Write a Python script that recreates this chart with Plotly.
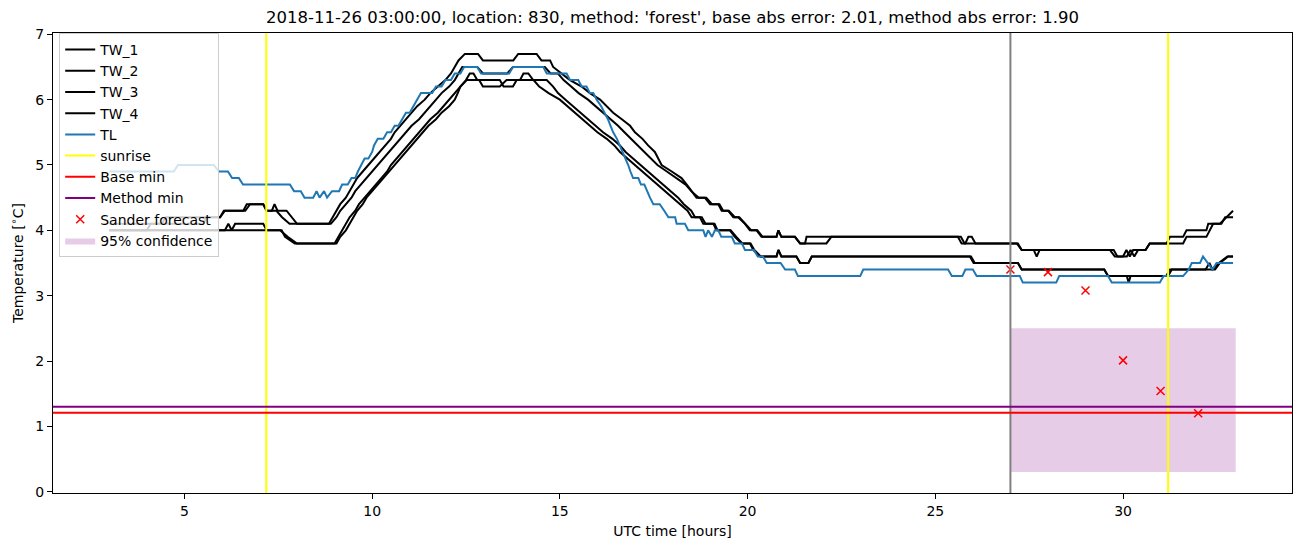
import plotly.graph_objects as go

# ---------------- data ----------------
tw1_t = [3.0, 4.4, 4.5, 5.95, 6.08, 6.57, 6.66, 7.1, 7.19, 7.33, 7.4, 7.48, 7.72, 7.86, 8.0, 8.85,
         8.95, 9.05, 9.15, 9.3, 9.4, 9.5, 9.6, 9.75, 9.9, 10.05, 10.2, 10.35, 10.5, 10.6, 10.75, 10.9,
         11.05, 11.2, 11.4, 11.55, 11.75, 11.95, 12.1, 12.2, 12.3, 12.47, 12.82, 12.95, 13.76, 13.89,
         14.38, 14.51, 14.74, 14.82, 15.05, 15.27, 15.58, 15.8, 16.07, 16.25, 16.42, 16.65, 16.87, 17.0,
         17.2, 17.35, 17.53, 17.62, 17.71, 17.98, 18.24, 18.38, 18.5, 18.64, 18.86, 19.0, 19.22, 19.31,
         19.48, 19.62, 19.75, 19.93, 20.06, 20.24, 20.37, 20.77, 20.82, 20.9, 21.26, 21.4, 21.53, 21.57,
         25.6, 25.7, 25.8, 25.88, 25.97, 26.07, 27.17, 27.3, 29.65, 29.78, 30.0, 30.09, 30.18, 30.27,
         30.6, 30.71, 31.16, 31.25, 31.6, 31.69, 32.22, 32.27, 32.58, 32.76, 32.93]
tw1_v = [4.1, 4.1, 4.2, 4.2, 4.3, 4.3, 4.4, 4.4, 4.3, 4.3, 4.4, 4.3, 4.3, 4.2, 4.1, 4.1,
         4.2, 4.3, 4.4, 4.5, 4.6, 4.7, 4.8, 4.9, 5.0, 5.1, 5.2, 5.3, 5.4, 5.5, 5.6, 5.7,
         5.8, 5.9, 6.0, 6.1, 6.2, 6.3, 6.4, 6.5, 6.6, 6.7, 6.7, 6.6, 6.6, 6.7,
         6.7, 6.6, 6.6, 6.5, 6.4, 6.3, 6.2, 6.1, 6.0, 5.9, 5.8, 5.7, 5.6, 5.5,
         5.4, 5.3, 5.2, 5.1, 5.0, 4.9, 4.8, 4.7, 4.6, 4.5, 4.5, 4.4, 4.4, 4.3,
         4.3, 4.2, 4.2, 4.1, 4.0, 4.0, 3.9, 3.9, 4.0, 3.9, 3.9, 3.8, 3.8, 3.9,
         3.9, 3.8, 3.8, 3.9, 3.9, 3.8, 3.8, 3.7, 3.7, 3.6, 3.6, 3.7, 3.6, 3.7,
         3.7, 3.8, 3.8, 3.9, 3.9, 4.0, 4.0, 4.1, 4.1, 4.2, 4.3]

tw2_t = [3.0, 4.0, 4.1, 5.5, 5.6, 5.95, 6.05, 6.62, 6.75, 7.1, 7.19, 7.45, 7.6, 7.8, 8.9,
         9.05, 9.15, 9.3, 9.45, 9.55, 9.7, 9.85, 10.0, 10.15, 10.3, 10.45, 10.6, 10.75, 10.9, 11.05,
         11.25, 11.4, 11.55, 11.7, 11.85, 12.05, 12.2, 12.3, 12.4, 12.8, 12.95, 13.6, 13.75, 14.6,
         14.75, 14.95, 15.1, 15.3, 15.5, 15.75, 15.95, 16.15, 16.35, 16.55, 16.72, 16.9, 17.08, 17.25,
         17.42, 17.6, 17.85, 18.1, 18.35, 18.5, 18.7, 18.9, 19.05, 19.25, 19.35, 19.5, 19.66,
         19.78, 19.95, 20.1, 20.26, 20.4, 20.77, 20.82, 20.9, 21.26, 21.4, 22.1, 22.23, 25.68, 25.78,
         27.2, 27.3, 27.62, 27.7, 27.78, 29.75, 29.85, 30.1, 30.2, 30.3, 30.4, 30.6, 30.71, 31.6,
         31.69, 32.22, 32.3, 32.4, 32.62, 32.72, 32.93]
tw2_v = [4.0, 4.0, 4.1, 4.1, 4.2, 4.2, 4.3, 4.3, 4.4, 4.4, 4.3, 4.3, 4.2, 4.1, 4.1,
         4.2, 4.3, 4.4, 4.5, 4.6, 4.7, 4.8, 4.9, 5.0, 5.1, 5.2, 5.3, 5.4, 5.5, 5.6,
         5.7, 5.8, 5.9, 6.0, 6.1, 6.2, 6.3, 6.4, 6.5, 6.5, 6.4, 6.4, 6.5, 6.5,
         6.4, 6.4, 6.3, 6.2, 6.1, 6.0, 5.9, 5.8, 5.7, 5.6, 5.5, 5.4, 5.3, 5.2,
         5.1, 5.0, 4.9, 4.8, 4.7, 4.6, 4.5, 4.5, 4.4, 4.4, 4.3, 4.3, 4.2,
         4.2, 4.1, 4.0, 4.0, 3.9, 3.9, 4.0, 3.9, 3.9, 3.8, 3.8, 3.9, 3.9, 3.8,
         3.8, 3.7, 3.7, 3.6, 3.7, 3.7, 3.6, 3.6, 3.7, 3.6, 3.7, 3.7, 3.8, 3.8,
         3.9, 3.9, 4.0, 4.1, 4.1, 4.2, 4.2]

tw3_t = [3.0, 6.08, 6.17, 6.26, 6.35, 7.1, 7.19, 7.55, 7.75, 7.99, 9.0,
         9.1, 9.2, 9.3, 9.4, 9.55, 9.65, 9.8, 9.95, 10.1, 10.25, 10.4, 10.5, 10.65, 10.8, 10.95,
         11.1, 11.25, 11.4, 11.55, 11.75, 11.9, 12.05, 12.2, 12.35, 12.5, 12.6, 12.7, 12.8, 13.4,
         13.5, 13.75, 13.85, 14.3, 14.45, 14.7, 15.0, 15.2, 15.4, 15.6, 15.8, 16.0, 16.25, 16.45,
         16.6, 16.8, 17.0, 17.2, 17.4, 17.6, 17.8, 18.0, 18.2, 18.4, 18.51, 18.73, 18.82, 19.09,
         19.17, 19.53, 19.66, 19.84, 20.06, 20.15, 20.33, 20.77, 20.82, 20.9, 21.3, 21.4, 21.62, 21.71,
         25.92, 26.02, 27.2, 27.3, 29.5, 29.6, 30.1, 30.15, 30.2, 31.15, 31.25, 32.2, 32.3, 32.38,
         32.55, 32.78, 32.93]
tw3_v = [4.0, 4.0, 4.1, 4.0, 4.1, 4.1, 4.0, 4.0, 3.9, 3.8, 3.8,
         3.9, 4.0, 4.1, 4.2, 4.3, 4.4, 4.5, 4.6, 4.7, 4.8, 4.9, 5.0, 5.1, 5.2, 5.3,
         5.4, 5.5, 5.6, 5.7, 5.8, 5.9, 6.0, 6.1, 6.2, 6.3, 6.4, 6.4, 6.3, 6.3,
         6.2, 6.2, 6.3, 6.3, 6.2, 6.1, 6.0, 5.9, 5.8, 5.7, 5.6, 5.5, 5.4, 5.3,
         5.2, 5.1, 5.0, 4.9, 4.8, 4.7, 4.6, 4.5, 4.4, 4.3, 4.2, 4.2, 4.1, 4.1,
         4.0, 4.0, 3.9, 3.8, 3.8, 3.7, 3.6, 3.6, 3.7, 3.6, 3.6, 3.5, 3.5, 3.6,
         3.6, 3.5, 3.5, 3.4, 3.4, 3.3, 3.3, 3.2, 3.3, 3.3, 3.4, 3.4, 3.5, 3.4,
         3.5, 3.6, 3.6]

tw4_t = [3.0, 7.59, 7.68, 7.94, 9.05, 9.15, 9.3, 9.4, 9.5, 9.6, 9.75, 9.85, 10.0, 10.15, 10.3,
         10.45, 10.6, 10.75, 10.9, 11.05, 11.2, 11.35, 11.5, 11.7, 11.85, 12.05, 12.2, 12.28, 12.35,
         12.52, 12.85, 12.95, 13.4, 13.58, 13.94, 14.03, 14.16, 14.29, 14.65, 14.82, 14.95, 15.15,
         15.35, 15.55, 15.75, 15.95, 16.15, 16.4, 16.6, 16.75, 16.95, 17.15, 17.35, 17.55, 17.75,
         17.95, 18.15, 18.3, 18.5, 18.6, 18.78, 18.88, 19.12, 19.2, 19.55, 19.7, 19.86, 20.08, 20.18,
         20.35, 20.77, 20.82, 20.9, 21.3, 21.4, 21.62, 21.71, 25.95, 26.05, 27.2, 27.3, 29.5, 29.6,
         31.2, 31.3, 32.45, 32.58, 32.8, 32.93]
tw4_v = [4.0, 4.0, 3.9, 3.8, 3.8, 3.9, 4.0, 4.1, 4.2, 4.3, 4.4, 4.5, 4.6, 4.7, 4.8,
         4.9, 5.0, 5.1, 5.2, 5.3, 5.4, 5.5, 5.6, 5.7, 5.8, 5.9, 6.0, 6.1, 6.2,
         6.3, 6.3, 6.2, 6.2, 6.3, 6.3, 6.4, 6.4, 6.3, 6.3, 6.2, 6.1, 6.0,
         5.9, 5.8, 5.7, 5.6, 5.5, 5.4, 5.3, 5.2, 5.1, 5.0, 4.9, 4.8, 4.7,
         4.6, 4.5, 4.4, 4.3, 4.2, 4.2, 4.1, 4.1, 4.0, 4.0, 3.9, 3.8, 3.8, 3.7,
         3.6, 3.6, 3.7, 3.6, 3.6, 3.5, 3.5, 3.6, 3.6, 3.5, 3.5, 3.4, 3.4, 3.3,
         3.3, 3.4, 3.4, 3.5, 3.6, 3.6]

tl_t = [3.0, 4.72, 4.83, 5.78, 5.92, 6.16, 6.27, 6.45, 6.56, 7.81, 7.92, 8.1, 8.2, 8.43, 8.52, 8.6,
        8.72, 8.8, 8.93, 9.12, 9.2, 9.35, 9.45, 9.55, 9.62, 9.7, 9.8, 9.9, 10.0, 10.05, 10.15, 10.3,
        10.4, 10.5, 10.6, 10.7, 10.8, 10.9, 11.0, 11.1, 11.2, 11.3, 11.6, 11.7, 11.85, 11.95, 12.1,
        12.2, 12.35, 12.45, 12.8, 12.9, 13.65, 13.75, 14.56, 14.65, 15.18, 15.27, 15.49, 15.58, 15.71,
        15.8, 15.89, 15.98, 16.1, 16.2, 16.28, 16.35, 16.42, 16.52, 16.6, 16.68, 16.76, 16.82, 16.88,
        16.95, 17.09, 17.16, 17.25, 17.32, 17.4, 17.49, 17.66, 17.78, 17.89, 18.07, 18.11, 18.33,
        18.42, 18.82, 18.88, 18.95, 19.05, 19.13, 19.22, 19.3, 19.58, 19.66, 19.85, 19.93, 20.17,
        20.27, 20.41, 20.51, 20.88, 21.0, 21.26, 21.34, 23.0, 23.08, 25.34, 25.44, 25.72, 25.8, 26.0,
        26.1, 27.25, 27.33, 28.22, 28.3, 29.6, 29.7, 30.98, 31.08, 31.6, 31.75, 31.83, 32.05, 32.13,
        32.38, 32.49, 32.93]
tl_v = [4.9, 4.9, 5.0, 5.0, 4.9, 4.9, 4.8, 4.8, 4.7, 4.7, 4.6, 4.6, 4.5, 4.5, 4.6, 4.5,
        4.6, 4.5, 4.6, 4.6, 4.7, 4.7, 4.8, 4.8, 4.9, 5.0, 5.1, 5.1, 5.2, 5.3, 5.4, 5.4,
        5.5, 5.5, 5.6, 5.6, 5.7, 5.8, 5.8, 5.9, 6.0, 6.1, 6.1, 6.2, 6.2, 6.3, 6.3,
        6.4, 6.4, 6.5, 6.5, 6.4, 6.4, 6.5, 6.5, 6.4, 6.4, 6.3, 6.3, 6.2, 6.2,
        6.1, 6.1, 6.0, 5.9, 5.8, 5.7, 5.6, 5.5, 5.4, 5.3, 5.2, 5.1, 5.0, 4.9,
        4.8, 4.8, 4.7, 4.7, 4.6, 4.5, 4.4, 4.4, 4.3, 4.2, 4.2, 4.1, 4.1,
        4.0, 4.0, 3.9, 4.0, 3.9, 4.0, 4.0, 3.9, 3.9, 3.8, 3.8, 3.7, 3.7,
        3.6, 3.6, 3.5, 3.5, 3.4, 3.4, 3.3, 3.3, 3.4, 3.4, 3.3, 3.3, 3.4, 3.4,
        3.3, 3.3, 3.2, 3.2, 3.3, 3.3, 3.2, 3.2, 3.3, 3.3, 3.4, 3.5, 3.5, 3.6,
        3.4, 3.5, 3.5]

forecast_t = [27, 28, 29, 30, 31, 32]
forecast_v = [3.40, 3.36, 3.08, 2.01, 1.54, 1.20]

conf_t = [27, 33]
conf_lower = [0.3, 0.3]
conf_upper = [2.5, 2.5]

sunrise_t = [7.18, 31.2]
forecast_start = 27.0
base_min = 1.21
method_min = 1.30

title_text = ("2018-11-26 03:00:00, location: 830, method: 'forest', "
              "base abs error: 2.01, method abs error: 1.90")

# ---------------- figure ----------------
FONT = "DejaVu Sans"
fig = go.Figure()

# confidence band (drawn first, underneath)
fig.add_trace(go.Scatter(x=conf_t, y=conf_lower, mode="lines", line=dict(width=0),
                         showlegend=False, hoverinfo="skip"))
fig.add_trace(go.Scatter(x=conf_t, y=conf_upper, mode="lines", line=dict(width=0),
                         fill="tonexty", fillcolor="rgba(128,0,128,0.2)",
                         name="95% confidence", legendrank=10))

series = [("TW_1", tw1_t, tw1_v, "black"), ("TW_2", tw2_t, tw2_v, "black"),
          ("TW_3", tw3_t, tw3_v, "black"), ("TW_4", tw4_t, tw4_v, "black"),
          ("TL", tl_t, tl_v, "#1f77b4")]
for i, (name, t, v, c) in enumerate(series):
    fig.add_trace(go.Scatter(x=t, y=v, mode="lines", name=name,
                             line=dict(color=c, width=2), legendrank=i + 1))

# legend entries for the reference lines (drawn as shapes below)
for i, (name, c) in enumerate([("sunrise", "yellow"), ("Base min", "red"),
                               ("Method min", "purple")]):
    fig.add_trace(go.Scatter(x=[None], y=[None], mode="lines", name=name,
                             line=dict(color=c, width=2), legendrank=6 + i))

fig.add_trace(go.Scatter(x=forecast_t, y=forecast_v, mode="markers", name="Sander forecast",
                         marker=dict(symbol="x-thin", size=8,
                                     line=dict(color="red", width=1.5)),
                         legendrank=9))

shapes = []
for s in sunrise_t:
    shapes.append(dict(type="line", xref="x", yref="y domain", x0=s, x1=s, y0=0, y1=1,
                       line=dict(color="yellow", width=2), layer="above"))
shapes.append(dict(type="line", xref="x", yref="y domain", x0=forecast_start, x1=forecast_start,
                   y0=0, y1=1, line=dict(color="gray", width=2), layer="above"))
shapes.append(dict(type="line", xref="x domain", yref="y", x0=0, x1=1, y0=base_min, y1=base_min,
                   line=dict(color="red", width=2), layer="above"))
shapes.append(dict(type="line", xref="x domain", yref="y", x0=0, x1=1, y0=method_min,
                   y1=method_min, line=dict(color="purple", width=2), layer="above"))

fig.update_layout(
    width=1302, height=547,
    margin=dict(l=53, r=10, t=33, b=54),
    paper_bgcolor="white", plot_bgcolor="white",
    font=dict(family=FONT, size=14, color="black"),
    title=dict(text=title_text, x=0.5, xref="paper", xanchor="center",
               y=1 - 17 / 547, yref="container", yanchor="middle",
               font=dict(family=FONT, size=16.5, color="black")),
    shapes=shapes,
    showlegend=True,
    legend=dict(x=0.005, y=1.0, xanchor="left", yanchor="top",
                bgcolor="rgba(255,255,255,0.8)", bordercolor="#cccccc", borderwidth=1,
                font=dict(family=FONT, size=14, color="black"), itemwidth=30,
                traceorder="normal", tracegroupgap=0),
)
fig.update_xaxes(range=[1.5, 34.5], tickvals=[5, 10, 15, 20, 25, 30], ticks="outside",
                 ticklen=5, tickcolor="black", showline=True, linecolor="black", linewidth=1,
                 mirror=True, showgrid=False, zeroline=False,
                 title=dict(text="UTC time [hours]", standoff=8,
                            font=dict(family=FONT, size=14)))
fig.update_yaxes(range=[-0.02, 7.02], tickvals=[0, 1, 2, 3, 4, 5, 6, 7], ticks="outside",
                 ticklen=5, tickcolor="black", showline=True, linecolor="black", linewidth=1,
                 mirror=True, showgrid=False, zeroline=False,
                 title=dict(text="Temperature [<sup>∘</sup>C]", standoff=8,
                            font=dict(family=FONT, size=14)))

fig.write_html("out.html")
